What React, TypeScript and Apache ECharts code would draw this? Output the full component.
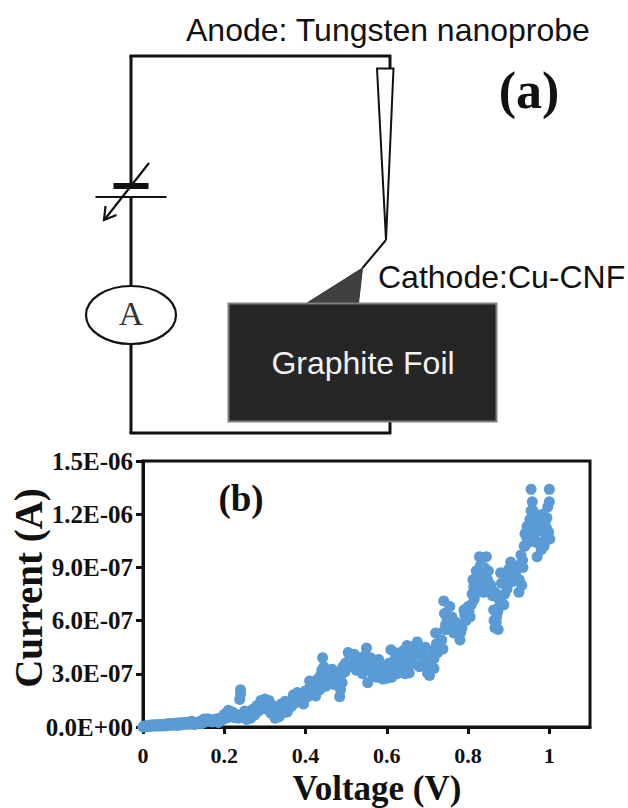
import React, { useEffect, useRef } from "react";
import * as echarts from "echarts";

const xTicks = [0, 0.2, 0.4, 0.6, 0.8, 1];
const yTickLabels = ["0.0E+00", "3.0E-07", "6.0E-07", "9.0E-07", "1.2E-06", "1.5E-06"];

// [voltage V, current in units of 1E-7 A]
const rangeA: number[][] = [
  [0,0],[.005,.02],[.01,.06],[.015,.02],[.02,.08],[.025,.04],[.03,.09],[.035,.05],[.04,.1],[.045,.05],[.05,.12],[.055,.06],
  [.06,.14],[.065,.08],[.07,.2],[.075,.1],[.08,.16],[.085,.08],[.09,.22],[.095,.12],[.1,.24],[.105,.14],[.11,.26],[.115,.16],
  [.12,.32],[.125,.14],[.13,.16],[.135,.24],[.14,.3],[.145,.2],[.15,.45],[.155,.3],[.16,.46],[.165,.34],[.17,.28],[.175,.42],
  [.18,.45],[.185,.25],[.19,.5],[.195,.4],[.2,.72],[.205,.5],[.21,.95],[.215,.6],[.22,.85],[.225,.52],[.23,.7],[.235,.5],
  [.24,2.1],[.24,1.85],[.238,1.55],[.245,.72],[.25,.9],[.255,.42],[.26,.85],[.265,.5],[.27,1],[.275,.68],[.28,1.2],[.285,.9],
];
const rangeB: number[][] = [
  [.29,1.5],[.295,1.2],[.3,1.58],[.305,1.0],[.31,1.5],[.315,.78],[.32,1.2],[.325,.5],[.33,.85],[.335,.58],[.34,1.3],[.345,.8],
  [.35,1.45],[.355,.85],[.36,1.3],[.365,1.15],[.37,1.8],[.375,1.35],[.38,1.95],[.385,1.45],[.39,1.7],[.395,1.3],[.4,2.05],[.405,1.7],
  [.41,2.6],[.415,2.1],[.42,2.25],[.425,1.75],[.43,2.7],[.435,2.1],[.44,3.2],[.442,3.9],[.445,3.4],[.45,2.3],[.455,3.0],[.46,2.55],
  [.465,3.25],[.47,2.4],[.475,3.1],[.48,2.7],[.484,1.7],[.486,2.1],[.49,2.5],[.492,3.4],[.498,3.6],[.505,4.2],[.51,3.4],[.515,3.8],
  [.52,4.1],[.525,3.2],[.53,3.9],[.535,3.5],[.54,3.0],[.545,4.0],[.55,4.45],[.553,2.5],[.556,3.4],[.56,3.9],[.565,3.0],[.57,3.7],
];
const rangeC: number[][] = [
  [.575,2.8],[.58,3.8],[.585,3.2],[.59,2.7],[.595,3.4],[.6,2.75],[.605,3.6],[.61,4.35],[.612,2.8],[.615,3.4],[.62,4.2],[.625,3.0],
  [.63,3.9],[.635,3.3],[.64,4.3],[.645,3.0],[.65,4.6],[.655,3.05],[.66,4.1],[.665,3.6],[.67,4.6],[.675,4.8],[.68,3.4],[.685,4.4],
  [.69,3.7],[.695,4.5],[.7,3.05],[.705,2.9],[.708,3.8],[.712,4.3],[.716,3.3],[.72,5.3],[.725,4.2],[.73,4.7],[.735,4.9],[.738,4.4],
  [.74,7.1],[.742,6.4],[.745,5.8],[.75,5.5],[.755,6.8],[.76,6.2],[.765,5.3],[.77,5.9],[.775,5.5],[.78,4.9],[.785,5.6],[.79,6.6],
  [.795,6.0],[.8,6.8],[.805,6.2],[.81,7.5],[.812,8.3],[.815,7.2],[.82,8.8],[.825,7.6],[.828,9.6],[.832,8.8],[.836,8.0],[.84,9.0],
];
const rangeD: number[][] = [
  [.845,9.6],[.848,8.3],[.852,7.7],[.856,8.0],[.86,7.4],[.863,6.6],[.864,6.0],[.866,5.6],[.87,6.2],[.874,5.5],[.877,6.8],[.88,8.7],
  [.884,7.4],[.888,6.9],[.892,8.4],[.896,7.8],[.9,8.9],[.905,9.3],[.91,8.2],[.915,9.1],[.92,8.4],[.925,7.6],[.928,9.1],[.932,8.0],
  [.935,9.0],[.93,9.7],[.938,10.2],[.94,10.9],[.945,11.3],[.948,10.4],[.952,11.7],[.955,13.4],[.958,12.7],[.96,12.2],[.963,10.8],[.966,11.4],
  [.97,9.6],[.972,11.9],[.975,10.4],[.978,11.5],[.98,10.0],[.984,12],[.987,10.2],[.99,11.6],[.993,11.2],[.996,12.4],[1,12.7],[1,13.4],[1.001,10.6],[.998,11.0],
];
const bandLow: number[][] = [
  [.002,.05],[.012,.1],[.022,.12],[.032,.14],[.042,.14],[.052,.16],[.062,.2],[.072,.2],[.082,.22],[.092,.24],[.102,.26],[.112,.28],
  [.122,.24],[.132,.26],[.142,.34],[.152,.38],[.162,.4],[.172,.36],[.182,.38],[.192,.48],[.202,.6],[.212,.78],[.222,.72],[.232,.62],
  [.242,.6],[.252,.66],[.262,.68],[.272,.86],[.282,1.05],[.292,1.35],[.302,1.3],[.312,1.15],[.322,.9],[.332,.72],[.342,1.05],[.352,1.15],
  [.362,1.15],[.372,1.55],[.382,1.7],[.392,1.5],[.402,1.85],[.412,2.35],[.422,2.0],[.432,2.4],[.437,2.9],[.447,2.7],[.457,2.8],[.467,2.85],
  [.477,2.9],[.487,2.9],[.497,3.1],[.507,3.75],[.517,3.55],[.527,3.5],[.537,3.25],[.547,3.6],[.557,3.7],[.567,3.3],
];
const bandMid: number[][] = [
  [.575,3.3],[.585,3.5],[.592,3.05],[.602,3.1],[.608,3.2],[.618,3.75],[.628,3.4],[.638,3.7],[.648,3.8],[.658,3.55],[.668,4.1],[.678,4.1],
  [.688,4.05],[.698,3.75],[.706,3.4],[.716,3.85],[.722,4.7],[.732,4.4],[.742,5.5],[.748,6.2],[.758,5.8],[.762,5.6],[.772,5.7],[.782,5.35],
  [.792,6.3],[.802,6.5],[.808,6.9],[.814,7.9],[.822,8.2],[.83,9.1],[.834,8.4],[.842,8.2],[.838,7.6],[.85,8.8],[.846,7.8],[.858,7.7],
  [.866,7.6],[.869,5.9],[.873,6.5],[.876,7.2],[.882,8.1],[.89,7.5],[.898,8.3],[.902,8.5],[.908,8.7],[.918,8.8],[.926,8.3],[.934,9.4],
  [.94,10.2],[.944,10.7],[.95,11.0],[.955,12.2],[.958,11.5],[.962,11.3],[.968,10.4],[.974,11.2],[.98,11.4],[.986,11.0],[.99,10.5],[.994,11.8],
];

const series = [rangeA, rangeB, rangeC, rangeD, bandLow, bandMid];

export default function App() {
  const ref = useRef<HTMLDivElement>(null);
  useEffect(() => {
    const chart = echarts.init(ref.current!, null, { renderer: "svg" });
    const sans = "'Liberation Sans'";
    const serif = "'Liberation Serif'";
    const wire = { stroke: "#111", lineWidth: 3 };
    const line = (x1: number, y1: number, x2: number, y2: number, style: any = wire) => ({
      type: "line", shape: { x1, y1, x2, y2 }, style, silent: true,
    });
    chart.setOption({
      animation: false,
      backgroundColor: "#fff",
      grid: { left: 143, top: 461, width: 447, height: 266, outerBoundsMode: "none", containLabel: false, show: true, borderColor: "#111", borderWidth: 3, backgroundColor: "transparent" },
      xAxis: {
        type: "value", min: 0, max: 1.1, interval: 0.2, splitLine: { show: false },
        name: "Voltage (V)", nameLocation: "middle", nameGap: 44, nameMoveOverlap: false,
        nameTextStyle: { fontFamily: serif, fontWeight: "bold", fontSize: 35, color: "#111", padding: [0, 0, 0, 21] },
        axisLine: { lineStyle: { color: "#111", width: 3 } },
        axisTick: { length: 7, lineStyle: { color: "#111", width: 3 }, customValues: xTicks },
        axisLabel: { customValues: xTicks, margin: 17, fontFamily: serif, fontWeight: "bold", fontSize: 22, color: "#111", formatter: (v: number) => String(v), hideOverlap: false, showMinLabel: true, showMaxLabel: true },
      },
      yAxis: {
        type: "value", min: 0, max: 15, interval: 3, splitLine: { show: false },
        name: "Current (A)", nameLocation: "middle", nameGap: 95, nameRotate: 90, nameMoveOverlap: false,
        nameTextStyle: { fontFamily: serif, fontWeight: "bold", fontSize: 39, color: "#111", padding: [0, 0, 0, 12] },
        axisLine: { lineStyle: { color: "#111", width: 3 } },
        axisTick: { length: 7, lineStyle: { color: "#111", width: 3 } },
        axisLabel: { margin: 10, fontFamily: serif, fontWeight: "bold", fontSize: 25, color: "#111", formatter: (v: number) => yTickLabels[Math.round(v / 3)], showMinLabel: true, showMaxLabel: true },
      },
      series: series.map((data) => ({
        type: "scatter", data, symbol: "circle", symbolSize: 11, clip: false,
        itemStyle: { color: "#5b9bd5", opacity: 1 }, silent: true,
      })),
      graphic: [
        line(131, 56, 131, 186),
        line(131, 197, 131, 286),
        line(131, 344, 131, 433),
        line(129.5, 56, 391, 56),
        line(129.5, 433, 391, 433),
        line(390, 55, 390, 69),
        line(390, 421, 390, 434),
        { type: "polygon", shape: { points: [[377, 68.5], [393.5, 68.5], [386, 240]] }, style: { fill: "#fff", stroke: "#111", lineWidth: 2 } },
        line(386, 240, 362.5, 268, { stroke: "#111", lineWidth: 2 }),
        { type: "polygon", shape: { points: [[362.5, 268], [307, 303], [358.5, 303]] }, style: { fill: "#404040", stroke: "#333", lineWidth: 1 } },
        { type: "rect", shape: { x: 228.5, y: 303.5, width: 268, height: 118 }, style: { fill: "#262626", stroke: "#7f7f7f", lineWidth: 2 } },
        { type: "text", x: 363, y: 363, style: { text: "Graphite Foil", fill: "#f2f2f2", font: `32px ${sans}`, align: "center", verticalAlign: "middle" } },
        { type: "ellipse", shape: { cx: 131, cy: 315, rx: 45, ry: 29 }, style: { fill: "#fff", stroke: "#111", lineWidth: 2.2 } },
        { type: "text", x: 131, y: 313, style: { text: "A", fill: "#333", font: `34px ${serif}`, align: "center", verticalAlign: "middle" } },
        { type: "rect", shape: { x: 113.5, y: 183, width: 35, height: 6 }, style: { fill: "#111" } },
        line(95.5, 197, 166.5, 197, { stroke: "#111", lineWidth: 2.2 }),
        line(149, 163, 105, 219, { stroke: "#111", lineWidth: 2.2 }),
        { type: "polyline", shape: { points: [[116.5, 215], [104, 220], [105.5, 206]] }, style: { fill: "none", stroke: "#111", lineWidth: 2.2 } },
        { type: "text", x: 186, y: 30, style: { text: "Anode: Tungsten nanoprobe", fill: "#111", font: `32px ${sans}`, align: "left", verticalAlign: "middle" } },
        { type: "text", x: 378, y: 277, style: { text: "Cathode:Cu-CNF", fill: "#111", font: `32px ${sans}`, align: "left", verticalAlign: "middle" } },
        { type: "text", x: 529, y: 90, style: { text: "(a)", fill: "#111", font: `bold 52px ${serif}`, align: "center", verticalAlign: "middle" } },
        { type: "text", x: 241, y: 498, style: { text: "(b)", fill: "#111", font: `bold 37px ${serif}`, align: "center", verticalAlign: "middle" } },
      ],
    });
    return () => chart.dispose();
  }, []);
  return <div ref={ref} style={{ position: "fixed", left: 0, top: 0, width: 628, height: 808 }} />;
}
